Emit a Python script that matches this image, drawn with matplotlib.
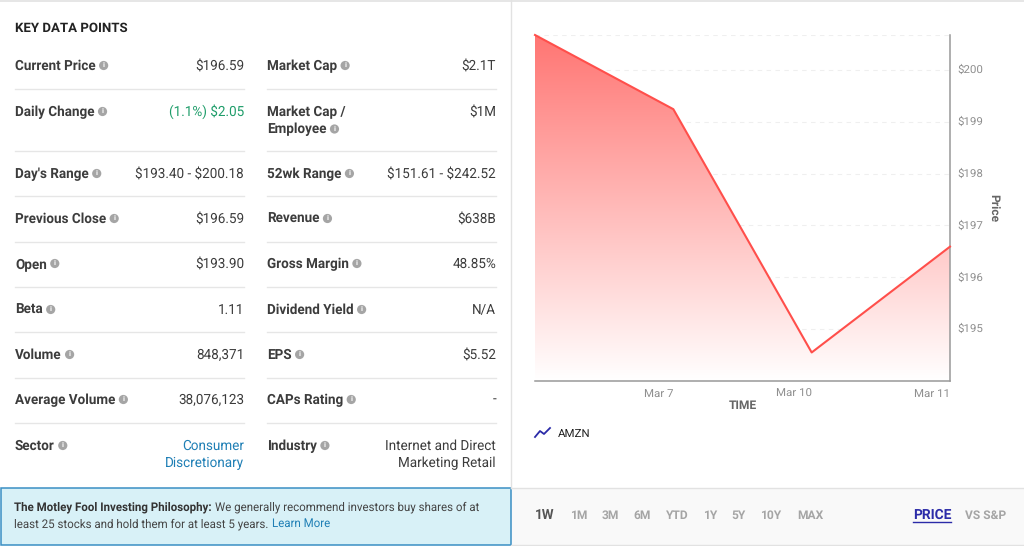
import numpy as np
import matplotlib.pyplot as plt
from matplotlib.patches import Rectangle, Circle
from matplotlib.transforms import ScaledTranslation

plt.rcParams['font.family'] = ['Roboto', 'DejaVu Sans']
plt.rcParams['text.parse_math'] = False
plt.rcParams['text.hinting'] = 'no_hinting'

# table contents
left_labels = ['Current Price', 'Daily Change', "Day's Range", 'Previous Close', 'Open',
               'Beta', 'Volume', 'Average Volume', 'Sector']
left_values = ['$196.59', '(1.1%) $2.05', '$193.40 - $200.18', '$196.59', '$193.90',
               '1.11', '848,371', '38,076,123', 'Consumer\nDiscretionary']
right_labels = ['Market Cap', 'Market Cap /\nEmployee', '52wk Range', 'Revenue', 'Gross Margin',
                'Dividend Yield', 'EPS', 'CAPs Rating', 'Industry']
right_values = ['$2.1T', '$1M', '$151.61 - $242.52', '$638B', '48.85%',
                'N/A', '$5.52', '-', 'Internet and Direct\nMarketing Retail']

# chart values
dates = ['Mar 6', 'Mar 7', 'Mar 10', 'Mar 11']
prices = [200.67, 199.24, 194.55, 196.59]
price_ticks = [195, 196, 197, 198, 199, 200]
ranges = ['1W', '1M', '3M', '6M', 'YTD', '1Y', '5Y', '10Y', 'MAX']

# layout, in pixels
row_y = [66, 112, 174, 219, 264, 310, 355, 400, 446]
line_y = [89, 151, 196, 242, 287, 332, 378, 423]
range_x = [545, 579, 610, 642, 677, 710, 739, 771, 810]

PX = 0.72  # px -> pt at dpi 100
DARK = '#3c3c3c'
GREY = '#8f8f8f'
BLUE = '#1f7fb5'

fig = plt.figure(figsize=(10.24, 5.46), dpi=100)
page = fig.add_axes([0, 0, 1, 1])
page.set_xlim(0, 1024)
page.set_ylim(546, 0)
page.axis('off')

# panels and rules
page.add_patch(Rectangle((511, 488), 513, 57, fc='#f9f9f9', ec='none'))
page.add_patch(Rectangle((0.5, 488), 510, 56.5, fc='#d8f1f7', ec='#3a8fc4', lw=1.1))
page.plot([0, 1024], [1, 1], color='#e2e2e2', lw=1.2)
page.plot([511, 511], [0, 488], color='#e2e2e2', lw=1)
page.plot([511, 1024], [488, 488], color='#e2e2e2', lw=1)
page.plot([511, 1024], [545, 545], color='#e2e2e2', lw=1)
for y in line_y:
    page.plot([15, 244], [y, y], color='#e6e6e6', lw=1)
    page.plot([267, 496], [y, y], color='#e6e6e6', lw=1)

page.text(15, 28, 'KEY DATA POINTS', fontsize=13.3 * PX, fontweight='bold',
          color='#222222', va='center')

renderer = fig.canvas.get_renderer()


def text_right(t):
    # pixel x of the right edge of a text
    box = t.get_window_extent(renderer)
    return box.x1


def draw_row(x0, x1, label, value, y, value_color):
    parts = label.split('\n')
    last = None
    for i, part in enumerate(parts):
        last = page.text(x0, y + i * 17.5, part, fontsize=13.5 * PX, fontweight='bold',
                         color=DARK, va='center')
    cx = text_right(last) + 8
    cy = y + (len(parts) - 1) * 17.5 - 0.5
    page.add_patch(Circle((cx, cy), 4.6, fc='#a5a5a5', ec='none'))
    page.text(cx, cy, 'i', fontsize=7.5 * PX, fontweight='bold', color='white',
              ha='center', va='center')
    for i, part in enumerate(value.split('\n')):
        page.text(x1, y + i * 17.5, part, fontsize=13.5 * PX, color=value_color,
                  ha='right', va='center')


for i in range(len(left_labels)):
    color = DARK
    if left_labels[i] == 'Daily Change':
        color = '#1f9d6a'
    if left_labels[i] == 'Sector':
        color = BLUE
    draw_row(15, 244, left_labels[i], left_values[i], row_y[i], color)
    draw_row(267, 496, right_labels[i], right_values[i], row_y[i], DARK)

# banner text
t = page.text(14, 507.5, 'The Motley Fool Investing Philosophy:', fontsize=11.55 * PX,
              fontweight='bold', color='#333333', va='center')
page.text(text_right(t) + 3.5, 507.5, 'We generally recommend investors buy shares of at',
          fontsize=11.55 * PX, color='#444444', va='center')
t = page.text(14, 524, 'least 25 stocks and hold them for at least 5 years.',
              fontsize=11.55 * PX, color='#444444', va='center')
page.text(text_right(t) + 3.5, 524, 'Learn More', fontsize=11.55 * PX, color=BLUE, va='center')

# chart
ax = fig.add_axes([535 / 1024, 1 - 381 / 546, (950 - 535) / 1024, (381 - 35) / 546])
ax.patch.set_alpha(0)
xs = np.arange(len(dates))
ax.set_xlim(0, len(dates) - 1)
ax.set_ylim(194.0, 200.67)
ax.set_yticks(price_ticks)
ax.set_yticklabels(['$%d' % p for p in price_ticks])
ax.yaxis.tick_right()
ax.yaxis.set_label_position('right')
ax.set_xticks(xs[1:])
ax.set_xticklabels(dates[1:], ha='right')
ax.tick_params(axis='both', length=0, labelsize=11.5 * PX, labelcolor=GREY)
ax.tick_params(axis='y', pad=5.5)
ax.tick_params(axis='x', pad=5.8)
for lab in ax.get_yticklabels():
    lab.set_transform(lab.get_transform() + ScaledTranslation(0, 1 / 100, fig.dpi_scale_trans))
for s in ['top', 'left']:
    ax.spines[s].set_visible(False)
for s in ['right', 'bottom']:
    ax.spines[s].set_color('#999999')
    ax.spines[s].set_linewidth(1.1)

for p in list(price_ticks) + [max(prices)]:
    ax.axhline(p, color='#efefef', lw=0.8, ls=(0, (4, 4)), zorder=1)

# gradient fill under the line
grad = np.ones((256, 1, 4))
grad[:, 0, 1] = np.linspace(0.46, 1.0, 256)
grad[:, 0, 2] = np.linspace(0.45, 1.0, 256)
im = ax.imshow(grad, extent=[0, len(dates) - 1, 194.0, 200.67], origin='upper',
               aspect='auto', zorder=2)
area = ax.fill_between(xs, prices, 194.0, color='none')
im.set_clip_path(area.get_paths()[0], transform=ax.transData)
ax.set_xlim(0, len(dates) - 1)
ax.set_ylim(194.0, 200.67)
ax.plot(xs, prices, color='#ff4f4b', lw=1.5, zorder=3, clip_on=False)

page.text(743, 405.5, 'TIME', fontsize=12 * PX, fontweight='bold', color='#666666',
          ha='center', va='center')
page.text(993.5, 208, 'Price', fontsize=12 * PX, fontweight='bold', color='#666666',
          rotation=-90, ha='center', va='center')

# legend
page.plot([535, 540, 544, 550], [437, 431, 434, 428], color='#2b2ba8', lw=1.3)
page.text(558, 433.5, 'AMZN', fontsize=11.5 * PX, color='#222222', va='center')

# range buttons
for i, r in enumerate(ranges):
    if r == '1W':
        page.text(range_x[i], 515.5, r, fontsize=13.5 * PX, fontweight='bold',
                  color='#555555', ha='center', va='center')
    else:
        page.text(range_x[i], 516, r, fontsize=12 * PX, fontweight='bold',
                  color='#a5a5a5', ha='center', va='center')
page.text(932, 515.5, 'PRICE', fontsize=13.8 * PX, fontweight='bold', color='#2b2ba8',
          ha='center', va='center')
page.plot([913, 951], [522, 522], color='#2b2ba8', lw=1)
page.text(986, 516, 'VS S&P', fontsize=12 * PX, fontweight='bold', color='#a5a5a5',
          ha='center', va='center')

fig.savefig('out.png', dpi=100)
